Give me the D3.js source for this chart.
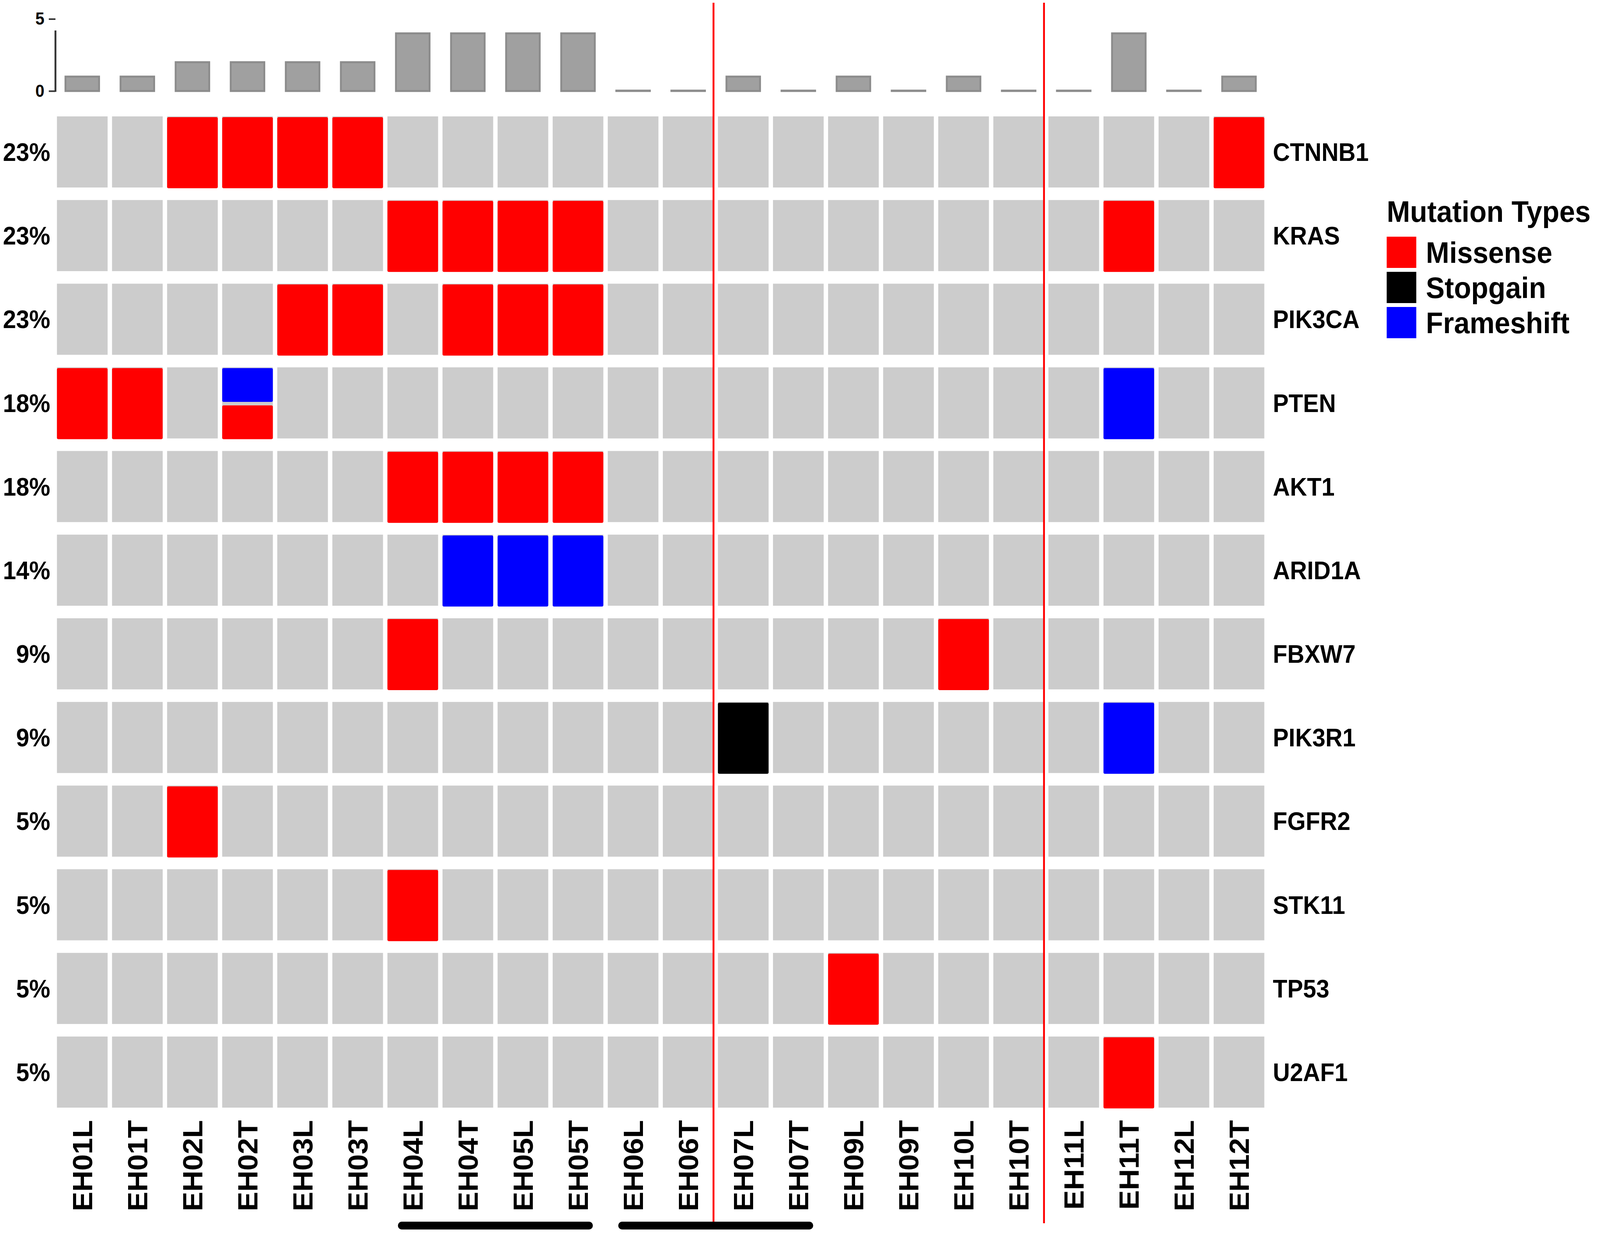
<!DOCTYPE html>
<html>
<head>
<meta charset="utf-8">
<script src="https://cdn.jsdelivr.net/npm/d3@7"></script>
<style>
  html, body { margin: 0; padding: 0; background: #fff; overflow: hidden; }
  #chart svg { display: block; }
  text { font-family: "Liberation Sans", Arial, sans-serif; font-weight: bold; fill: #000; }
</style>
</head>
<body>
<div id="chart"></div>
<script>
const samples = ["EH01L", "EH01T", "EH02L", "EH02T", "EH03L", "EH03T", "EH04L", "EH04T",
  "EH05L", "EH05T", "EH06L", "EH06T", "EH07L", "EH07T", "EH09L", "EH09T",
  "EH10L", "EH10T", "EH11L", "EH11T", "EH12L", "EH12T"];
const genes = ["CTNNB1", "KRAS", "PIK3CA", "PTEN", "AKT1", "ARID1A",
  "FBXW7", "PIK3R1", "FGFR2", "STK11", "TP53", "U2AF1"];
const pctLabels = ["23%", "23%", "23%", "18%", "18%", "14%", "9%", "9%", "5%", "5%", "5%", "5%"];
const sampleCounts = [1, 1, 2, 2, 2, 2, 4, 4, 4, 4, 0, 0, 1, 0, 1, 0, 1, 0, 0, 4, 0, 1];
const barTicks = [0, 5];

const missense = [
  ["CTNNB1", "EH02L"], ["CTNNB1", "EH02T"], ["CTNNB1", "EH03L"], ["CTNNB1", "EH03T"], ["CTNNB1", "EH12T"],
  ["KRAS", "EH04L"], ["KRAS", "EH04T"], ["KRAS", "EH05L"], ["KRAS", "EH05T"], ["KRAS", "EH11T"],
  ["PIK3CA", "EH03L"], ["PIK3CA", "EH03T"], ["PIK3CA", "EH04T"], ["PIK3CA", "EH05L"], ["PIK3CA", "EH05T"],
  ["PTEN", "EH01L"], ["PTEN", "EH01T"], ["PTEN", "EH02T"],
  ["AKT1", "EH04L"], ["AKT1", "EH04T"], ["AKT1", "EH05L"], ["AKT1", "EH05T"],
  ["FBXW7", "EH04L"], ["FBXW7", "EH10L"],
  ["FGFR2", "EH02L"],
  ["STK11", "EH04L"],
  ["TP53", "EH09L"],
  ["U2AF1", "EH11T"]
];
const stopgain = [["PIK3R1", "EH07L"]];
const frameshift = [
  ["PTEN", "EH02T"], ["PTEN", "EH11T"],
  ["ARID1A", "EH04T"], ["ARID1A", "EH05L"], ["ARID1A", "EH05T"],
  ["PIK3R1", "EH11T"]
];

const mutationTypes = ["Missense", "Stopgain", "Frameshift"];
const typeColors = ["#ff0000", "#000000", "#0000ff"];
// order of stacking inside a cell, top first
const stackOrder = ["Frameshift", "Stopgain", "Missense"];

const dividersAfter = ["EH06T", "EH10T"];
const sampleGroups = [["EH04L", "EH05T"], ["EH06L", "EH07T"]];

const width = 4328, height = 3157;

// drawn in a fixed 4328x3157 frame, stretched to fill the window
const svg = d3.select("#chart").append("svg")
  .attr("width", "100vw")
  .attr("height", "100vh")
  .attr("viewBox", `0 0 ${width} ${height}`)
  .attr("preserveAspectRatio", "none");

const x = d3.scaleBand().domain(samples).range([154, 3420]).paddingInner(0.08).paddingOuter(0);
const y = d3.scaleBand().domain(genes).range([298, 2836]).paddingInner(0.15).paddingOuter(0);
const color = d3.scaleOrdinal().domain(mutationTypes).range(typeColors);

// ---- top barplot ----
const countMax = d3.max(sampleCounts);
const yBar = d3.scaleLinear().domain([0, countMax * 1.05]).range([233, 78]);
const barW = x.step() * 0.61;

svg.append("g").selectAll("rect")
  .data(samples.map((s, i) => ({ s, v: sampleCounts[i] })))
  .join("rect")
  .attr("x", d => x(d.s) + x.bandwidth() / 2 - barW / 2)
  .attr("y", d => Math.min(yBar(d.v), yBar(0) - 1))
  .attr("width", barW)
  .attr("height", d => Math.max(yBar(0) - yBar(d.v), 1))
  .attr("fill", "#a0a0a0")
  .attr("stroke", "#8c8c8c")
  .attr("stroke-width", 5);

const barAxis = svg.append("g")
  .attr("transform", "translate(150,0)")
  .call(d3.axisLeft(yBar).tickValues(barTicks).tickFormat(d3.format("d")).tickSize(18).tickPadding(12));
barAxis.select(".domain").remove();
barAxis.selectAll(".tick line").attr("stroke", "#333").attr("stroke-width", 4);
barAxis.selectAll(".tick text")
  .attr("font-size", 44)
  .attr("font-family", "'Liberation Sans', Arial, sans-serif")
  .attr("font-weight", "bold")
  .attr("fill", "#111");
barAxis.append("line")
  .attr("x1", 0).attr("x2", 0)
  .attr("y1", yBar(0) + 2).attr("y2", yBar(countMax * 1.05))
  .attr("stroke", "#333").attr("stroke-width", 5);

// ---- heatmap background ----
const cells = [];
genes.forEach(g => samples.forEach(s => cells.push({ g, s })));

svg.append("g").selectAll("rect")
  .data(cells)
  .join("rect")
  .attr("x", d => x(d.s))
  .attr("y", d => y(d.g))
  .attr("width", x.bandwidth())
  .attr("height", y.bandwidth())
  .attr("fill", "#cccccc");

// ---- mutations ----
const byCell = new Map();
[[missense, "Missense"], [stopgain, "Stopgain"], [frameshift, "Frameshift"]].forEach(([list, type]) => {
  list.forEach(([g, s]) => {
    const key = g + "|" + s;
    if (!byCell.has(key)) byCell.set(key, { g, s, types: [] });
    byCell.get(key).types.push(type);
  });
});

const gap = 9;
const mutRects = [];
byCell.forEach(c => {
  const types = c.types.slice().sort((a, b) => stackOrder.indexOf(a) - stackOrder.indexOf(b));
  const n = types.length;
  const h = (y.bandwidth() - gap * (n - 1)) / n;
  types.forEach((t, i) => mutRects.push({ g: c.g, s: c.s, type: t, i, h }));
});

svg.append("g").selectAll("rect")
  .data(mutRects)
  .join("rect")
  .attr("x", d => x(d.s))
  .attr("y", d => y(d.g) + 2 + d.i * (d.h + gap))
  .attr("width", x.bandwidth())
  .attr("height", d => d.h)
  .attr("rx", 4)
  .attr("fill", d => color(d.type));

// ---- row labels ----
svg.append("g").selectAll("text")
  .data(genes.map((g, i) => ({ g, p: pctLabels[i] })))
  .join("text")
  .attr("x", 136)
  .attr("y", d => y(d.g) + y.bandwidth() / 2)
  .attr("dy", "0.36em")
  .attr("text-anchor", "end")
  .attr("font-size", 64)
  .text(d => d.p);

svg.append("g").selectAll("text")
  .data(genes)
  .join("text")
  .attr("x", 3443)
  .attr("y", d => y(d) + y.bandwidth() / 2)
  .attr("dy", "0.36em")
  .attr("font-size", 64)
  .text(d => d);

// ---- column labels ----
svg.append("g").selectAll("text")
  .data(samples)
  .join("text")
  .attr("transform", d => `translate(${x(d) + x.bandwidth() / 2},2868) rotate(-90)`)
  .attr("dy", "0.36em")
  .attr("text-anchor", "end")
  .attr("font-size", 75)
  .text(d => d);

// ---- divider lines ----
svg.append("g").selectAll("line")
  .data(dividersAfter)
  .join("line")
  .attr("x1", d => x(d) + x.bandwidth())
  .attr("x2", d => x(d) + x.bandwidth())
  .attr("y1", 7)
  .attr("y2", 3132)
  .attr("stroke", "#ff0000")
  .attr("stroke-width", 5);

// ---- group bars ----
svg.append("g").selectAll("line")
  .data(sampleGroups)
  .join("line")
  .attr("x1", d => x(d[0]) + x.bandwidth() * 0.28)
  .attr("x2", d => x(d[1]) + x.bandwidth() * 0.72)
  .attr("y1", 3138)
  .attr("y2", 3138)
  .attr("stroke", "#000")
  .attr("stroke-width", 20)
  .attr("stroke-linecap", "round");

// ---- legend ----
const legend = svg.append("g").attr("transform", "translate(3751,0)");
legend.append("text")
  .attr("x", 0)
  .attr("y", 568)
  .attr("font-size", 76)
  .text("Mutation Types");

const keys = legend.selectAll("g.key")
  .data(mutationTypes)
  .join("g")
  .attr("class", "key")
  .attr("transform", (d, i) => `translate(0,${606 + i * 90})`);
keys.append("rect")
  .attr("width", 80)
  .attr("height", 80)
  .attr("fill", d => color(d));
keys.append("text")
  .attr("x", 106)
  .attr("y", 40)
  .attr("dy", "0.36em")
  .attr("font-size", 76)
  .text(d => d);
</script>
</body>
</html>
